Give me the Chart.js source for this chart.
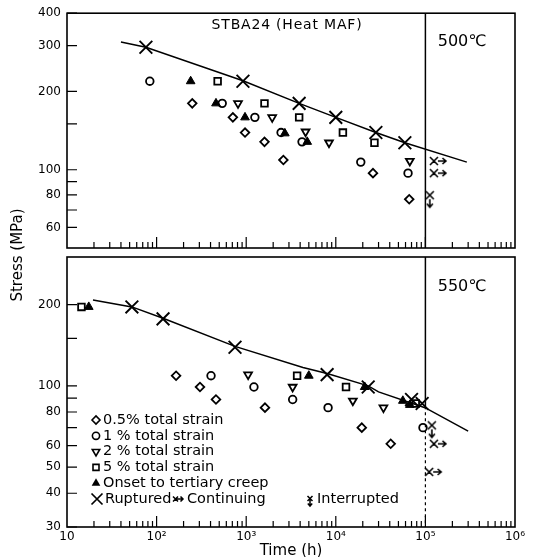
<!DOCTYPE html>
<html><head><meta charset="utf-8">
<script src="https://cdn.jsdelivr.net/npm/chart.js"></script>
<style>
html,body{margin:0;padding:0;background:#fff;}
#wrap{position:relative;width:537px;height:557px;background:#fff;}
canvas{position:absolute;left:0;top:0;}
</style></head><body>
<div id="wrap"><canvas id="c1" width="537" height="557"></canvas><canvas id="c2" width="537" height="557"></canvas></div>
<script>
const FONT = "'DejaVu Sans', 'Liberation Sans', sans-serif";

// ---- axes ----
const xDecades = [10, 100, 1000, 10000, 100000, 1000000];
const xLabels = ['10', '10²', '10³', '10⁴', '10⁵', '10⁶'];
const minorSteps = [2, 3, 4, 5, 6, 7, 8, 9];
const topRange = [50, 400];
const topYTicks = [60, 70, 80, 90, 100, 150, 200, 300, 400];
const topYLabels = [60, 80, 100, 200, 300, 400];
const botRange = [30, 300];
const botYTicks = [30, 40, 50, 60, 70, 80, 90, 100, 150, 200];
const botYLabels = [30, 40, 50, 60, 80, 100, 200];

// ---- 500 °C panel: [time (h), stress (MPa)] ----
const t500_strain05 = [[250,180],[710,159],[970,139],[1600,128],[2600,109],[26000,97],[66000,77]];
const t500_strain1  = [[84,219],[540,180],[1250,159],[2450,139],[4200,128],[19000,107],[64000,97]];
const t500_strain2  = [[810,180],[1950,159],[4600,140],[8400,127],[67000,108]];
const t500_strain5  = [[480,219],[1600,180],[3900,159],[12000,139],[27000,127]];
const t500_onset    = [[240,219],[460,180],[970,159],[2700,138],[4800,128]];
const t500_rupture  = [[76,296],[920,219],[3900,180],[10000,159],[28000,139],[59000,127]];
const t500_continuing  = [[138000,108],[138000,97]];
const t500_interrupted = [[112000,77]];
const t500_curve    = [[40,310],[76,296],[920,220],[3900,180],[10000,159],[28000,139],[59000,127],[290000,107]];
const t500_limit    = [[100000,400],[100000,50]];

// ---- 550 °C panel ----
const t550_strain05 = [[165,109],[305,99],[460,89],[1620,83],[19500,70],[41000,61]];
const t550_strain1  = [[405,109],[1220,99],[3300,89],[8200,83],[94000,70]];
const t550_strain2  = [[1050,110],[3300,99],[15500,88],[34000,83]];
const t550_strain5  = [[14.5,196],[3700,109],[13000,99],[78000,86]];
const t550_onset    = [[17.5,196],[5000,109],[21000,99],[56000,88],[67000,85]];
const t550_rupture  = [[53,196],[118,177],[750,139],[8000,110],[23000,99],[70000,89],[92000,86]];
const t550_continuing  = [[138000,61],[122000,48]];
const t550_interrupted = [[118000,69]];
const t550_curve    = [[19.5,208],[53,196],[118,178],[750,140],[4300,117],[8000,111],[23000,100],[30000,95],[99000,83],[300000,68]];
const t550_limitSolid  = [[100000,300],[100000,84]];
const t550_limitDashed = [[100000,84],[100000,30]];

const legendLabels = ['0.5% total strain','1 % total strain','2 % total strain','5 % total strain','Onset to tertiary creep','Ruptured','Continuing','Interrupted'];

// ---- custom marker images ----
function makeContinuing(){
  const c=document.createElement('canvas'); c.width=22; c.height=12;
  const g=c.getContext('2d'); g.strokeStyle='#000'; g.lineWidth=1.6;
  g.beginPath();
  g.moveTo(3,2); g.lineTo(11,10); g.moveTo(11,2); g.lineTo(3,10);
  g.moveTo(11,6); g.lineTo(19,6);
  g.moveTo(15.5,3); g.lineTo(19,6); g.lineTo(15.5,9);
  g.stroke(); return c;
}
function makeInterrupted(){
  const c=document.createElement('canvas'); c.width=12; c.height=26;
  const g=c.getContext('2d'); g.strokeStyle='#000'; g.lineWidth=1.6;
  g.beginPath();
  g.moveTo(2,5); g.lineTo(10,13); g.moveTo(10,5); g.lineTo(2,13);
  g.moveTo(6,13); g.lineTo(6,21);
  g.moveTo(3,17.5); g.lineTo(6,21); g.lineTo(9,17.5);
  g.stroke(); return c;
}
const contImg = makeContinuing();
const intrImg = makeInterrupted();

const pts = arr => arr.map(([x,y]) => ({x, y}));
function markers(data, style, radius, extra){
  return Object.assign({data: pts(data), showLine:false, pointStyle: style, pointRadius: radius,
    pointBorderColor:'#000', pointBackgroundColor:'rgba(0,0,0,0)', pointBorderWidth:1.8,
    pointHoverRadius: radius}, extra || {});
}
function lineSet(data, width, dash){
  return {data: pts(data), showLine:true, pointRadius:0, borderColor:'#000', borderWidth:width,
    borderDash: dash || [], tension:0, fill:false};
}
function panelSets(s05, s1, s2, s5, onset, rup, cont, intr){
  return [
    markers(onset, 'triangle', 5, {pointBackgroundColor:'#000', pointBorderWidth:1}),
    markers(rup, 'crossRot', 9, {pointBorderWidth:1.9}),
    markers(s05, 'rectRot', 4.3),
    markers(s1, 'circle', 3.8),
    markers(s2, 'triangle', 4.5, {pointRotation:180}),
    markers(s5, 'rect', 4.7),
    markers(cont, contImg, 6),
    markers(intr, intrImg, 6),
  ];
}

function drawSym(ctx, style, x, y){
  ctx.save(); ctx.strokeStyle='#000'; ctx.fillStyle='#000'; ctx.lineWidth=1.6;
  ctx.beginPath();
  if (style==='diamond'){ const r=4; ctx.moveTo(x-r,y); ctx.lineTo(x,y-r); ctx.lineTo(x+r,y); ctx.lineTo(x,y+r); ctx.closePath(); ctx.stroke(); }
  else if (style==='circle'){ ctx.arc(x,y,3.6,0,Math.PI*2); ctx.stroke(); }
  else if (style==='down'){ const r=4.3; ctx.moveTo(x-r*0.866,y-r*0.5); ctx.lineTo(x+r*0.866,y-r*0.5); ctx.lineTo(x,y+r); ctx.closePath(); ctx.stroke(); }
  else if (style==='square'){ ctx.rect(x-3,y-3,6,6); ctx.stroke(); }
  else if (style==='filled'){ const r=5; ctx.moveTo(x,y-r); ctx.lineTo(x+r*0.866,y+r*0.5); ctx.lineTo(x-r*0.866,y+r*0.5); ctx.closePath(); ctx.fill(); }
  else if (style==='cross'){ const h=5.5; ctx.lineWidth=1.7; ctx.moveTo(x-h,y-h); ctx.lineTo(x+h,y+h); ctx.moveTo(x+h,y-h); ctx.lineTo(x-h,y+h); ctx.stroke(); }
  else if (style==='cont'){
    ctx.lineWidth=1.5;
    ctx.moveTo(x-5,y-2.5); ctx.lineTo(x,y+2.5); ctx.moveTo(x,y-2.5); ctx.lineTo(x-5,y+2.5);
    ctx.moveTo(x-2.5,y); ctx.lineTo(x+5,y); ctx.moveTo(x+2.5,y-2.5); ctx.lineTo(x+5,y); ctx.lineTo(x+2.5,y+2.5);
    ctx.stroke();
  }
  else if (style==='intr'){
    ctx.lineWidth=1.5;
    ctx.moveTo(x-2.5,y-3); ctx.lineTo(x+2.5,y+2); ctx.moveTo(x+2.5,y-3); ctx.lineTo(x-2.5,y+2);
    ctx.moveTo(x,y-0.5); ctx.lineTo(x,y+7); ctx.moveTo(x-2.2,y+4.5); ctx.lineTo(x,y+7); ctx.lineTo(x+2.2,y+4.5);
    ctx.stroke();
  }
  ctx.restore();
}
function drawLegend(ctx){
  const styles=['diamond','circle','down','square','filled'];
  ctx.font = '14.5px ' + FONT; ctx.textAlign='left'; ctx.textBaseline='middle'; ctx.fillStyle='#000';
  for (let i=0;i<5;i++){
    const y = 420 + i*15.8;
    drawSym(ctx, styles[i], 96, y);
    ctx.fillText(legendLabels[i], 103, y);
  }
  const y = 420 + 5*15.8;
  drawSym(ctx, 'cross', 97, y); ctx.fillText(legendLabels[5], 105, y);
  drawSym(ctx, 'cont', 178, y); ctx.fillText(legendLabels[6], 187, y);
  drawSym(ctx, 'intr', 310, y); ctx.fillText(legendLabels[7], 317, y);
}

const panelPlugin = {
  id:'panel',
  afterDraw(chart, args, o){
    const ctx=chart.ctx, a=chart.chartArea, xs=chart.scales.x, ys=chart.scales.y;
    ctx.save();
    ctx.strokeStyle='#000'; ctx.fillStyle='#000';
    ctx.lineWidth=1.2;
    ctx.beginPath();
    for (let i=0;i<xDecades.length-1;i++){
      const d=xDecades[i];
      if (i>0){ const px=xs.getPixelForValue(d); ctx.moveTo(px,a.bottom); ctx.lineTo(px,a.bottom-11); }
      for (const m of minorSteps){ const p=xs.getPixelForValue(d*m); ctx.moveTo(p,a.bottom); ctx.lineTo(p,a.bottom-6); }
    }
    for (const v of o.yTicks){ const py=ys.getPixelForValue(v); ctx.moveTo(a.left,py); ctx.lineTo(a.left+10,py); }
    ctx.stroke();
    ctx.lineWidth=1.6;
    ctx.strokeRect(a.left,a.top,a.right-a.left,a.bottom-a.top);
    for (const t of o.texts){
      ctx.font=t.font; ctx.letterSpacing=t.spacing||'0px'; ctx.textAlign='center'; ctx.textBaseline='middle';
      if (t.rotate){ ctx.save(); ctx.translate(t.x,t.y); ctx.rotate(-Math.PI/2); ctx.fillText(t.text,0,0); ctx.restore(); }
      else ctx.fillText(t.text,t.x,t.y);
    }
    ctx.letterSpacing='0px';
    if (o.legend) drawLegend(ctx);
    ctx.restore();
  }
};

function makeChart(id, datasets, range, yTicks, yLabels, bottom, texts){
  return new Chart(document.getElementById(id), {
    type:'scatter',
    data:{datasets},
    options:{
      responsive:false, animation:false, devicePixelRatio:1, events:[],
      layout:{padding: bottom ? {top:257,left:0,right:22,bottom:0} : {top:13,left:0,right:22,bottom:309}},
      plugins:{legend:{display:false}, tooltip:{enabled:false},
        panel:{yTicks, texts, legend:bottom}},
      scales:{
        x:{type:'logarithmic', min:10, max:1000000, position:'bottom', display: bottom,
          afterFit(s){ s.height = bottom ? 30 : 0; },
          afterBuildTicks(s){ s.ticks = xDecades.map(v=>({value:v})); },
          ticks:{callback:(v)=>{ const i=xDecades.indexOf(v); return i>=0?xLabels[i]:''; },
            font:{family:FONT,size:12}, color:'#000', padding:3, maxRotation:0, autoSkip:false},
          grid:{display:false, drawTicks:false}, border:{display:false},
          title:{display:bottom, text:'Time (h)', font:{family:FONT,size:15,lineHeight:1}, color:'#000', padding:{top:0,bottom:-2}}},
        y:{type:'logarithmic', min:range[0], max:range[1], position:'left',
          afterFit(s){ s.width = 67; },
          afterBuildTicks(s){ s.ticks = yTicks.map(v=>({value:v})); },
          ticks:{callback:(v)=> yLabels.includes(v) ? String(v) : '',
            font:{family:FONT,size:12}, color:'#000', padding:6, autoSkip:false},
          grid:{display:false, drawTicks:false}, border:{display:false}}
      }
    },
    plugins:[panelPlugin]
  });
}

const topSets = panelSets(t500_strain05, t500_strain1, t500_strain2, t500_strain5, t500_onset, t500_rupture, t500_continuing, t500_interrupted)
  .concat([lineSet(t500_curve, 1.5), lineSet(t500_limit, 1.5)]);
const botSets = panelSets(t550_strain05, t550_strain1, t550_strain2, t550_strain5, t550_onset, t550_rupture, t550_continuing, t550_interrupted)
  .concat([lineSet(t550_curve, 1.5), lineSet(t550_limitSolid, 1.5), lineSet(t550_limitDashed, 1.2, [3,3])]);

makeChart('c1', topSets, topRange, topYTicks, topYLabels, false, [
  {text:'STBA24 (Heat MAF)', x:287, y:25, font:'14px '+FONT, spacing:'0.8px'},
  {text:'500℃', x:462, y:42, font:'16px '+FONT},
  {text:'Stress (MPa)', x:18, y:255, font:'15px '+FONT, rotate:true}
]);
makeChart('c2', botSets, botRange, botYTicks, botYLabels, true, [
  {text:'550℃', x:462, y:287, font:'16px '+FONT}
]);
</script>
</body></html>
